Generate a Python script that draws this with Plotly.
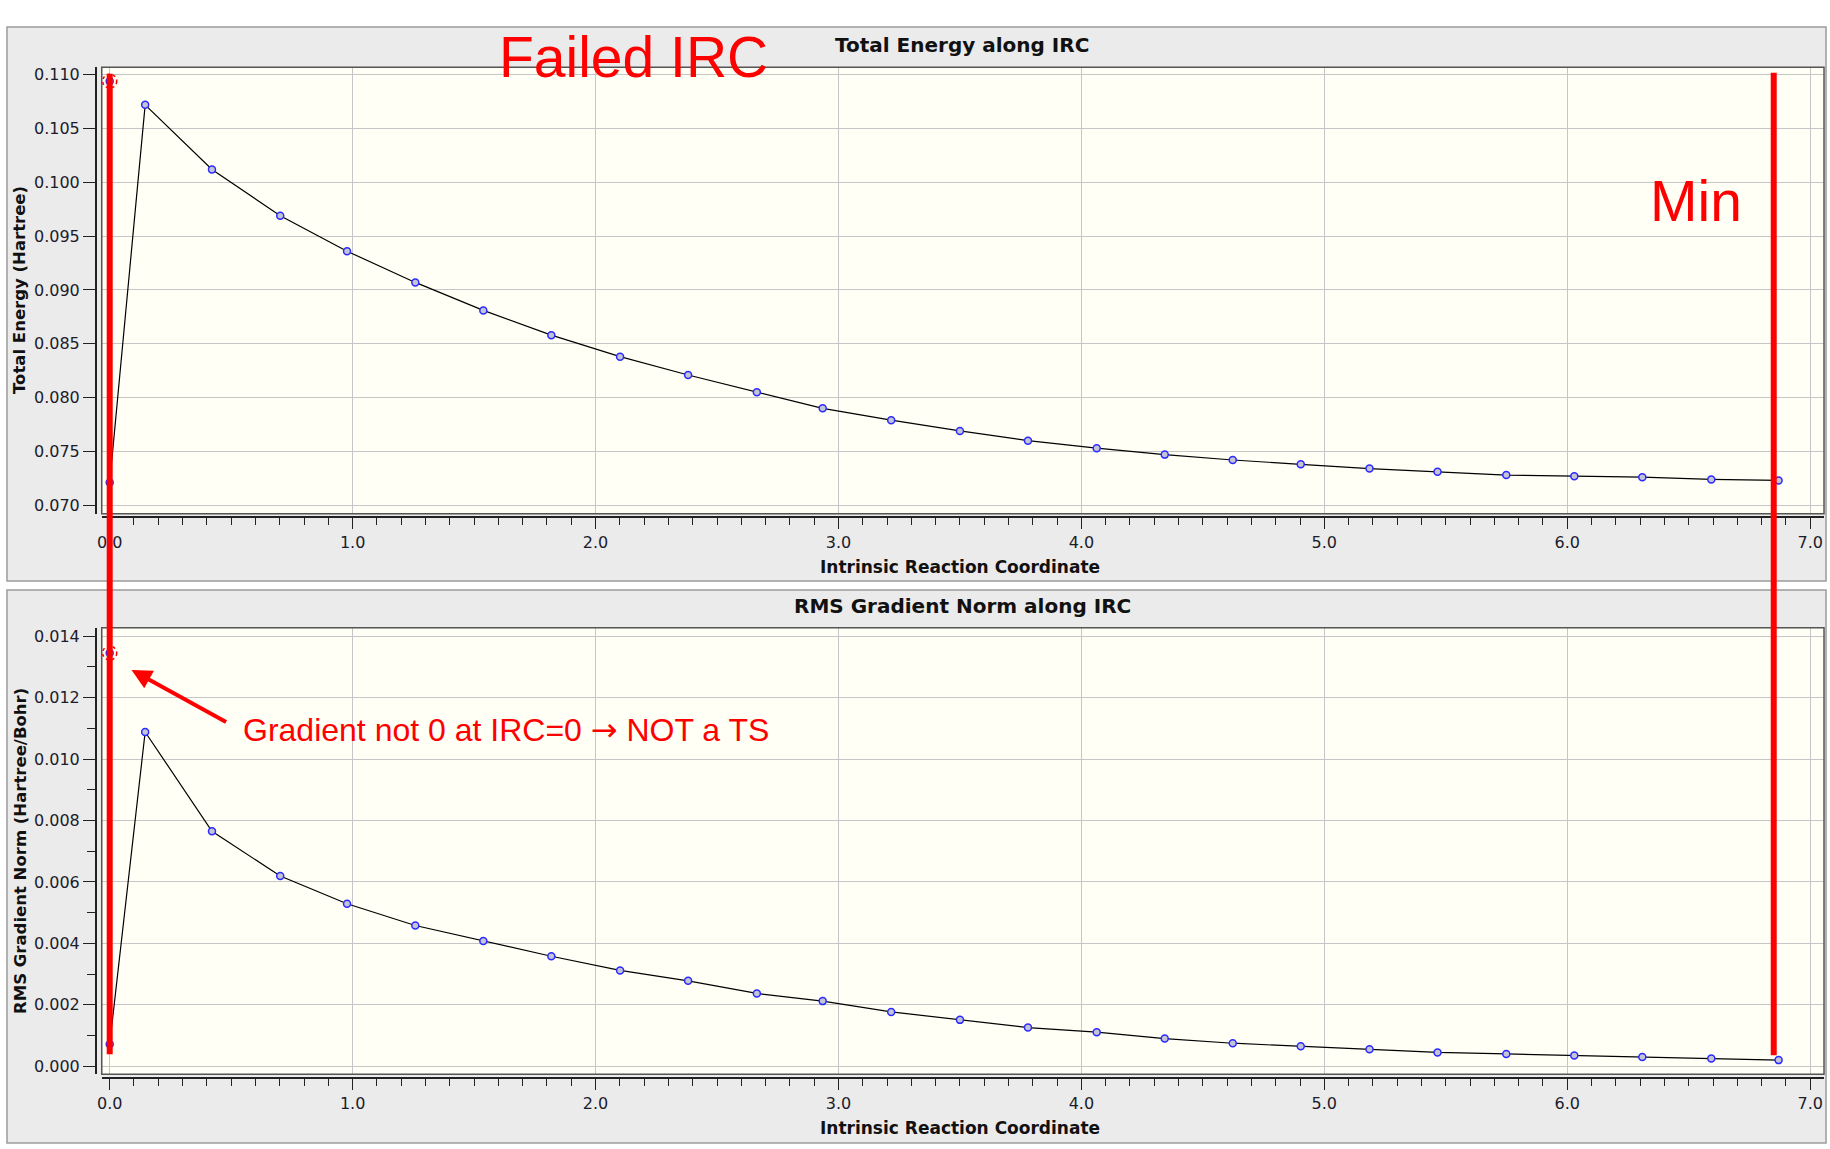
import plotly.graph_objects as go

# IRC data
irc = [0.0, 0.0, 0.146, 0.421, 0.702, 0.977, 1.258, 1.538, 1.818, 2.101, 2.381, 2.664, 2.935,
       3.217, 3.500, 3.780, 4.063, 4.343, 4.623, 4.903, 5.186, 5.466, 5.749, 6.029, 6.309,
       6.593, 6.870]
energy = [0.1094, 0.0721, 0.1072, 0.1012, 0.0969, 0.0936, 0.0907, 0.0881, 0.0858, 0.0838,
          0.0821, 0.0805, 0.0790, 0.0779, 0.0769, 0.0760, 0.0753, 0.0747, 0.0742, 0.0738,
          0.0734, 0.0731, 0.0728, 0.0727, 0.0726, 0.0724, 0.0723]
grad_norm = [0.01345, 0.00072, 0.01088, 0.00765, 0.00619, 0.00529, 0.00458, 0.00408, 0.00358,
             0.00312, 0.00278, 0.00237, 0.00212, 0.00177, 0.00151, 0.00126, 0.00111, 0.00090,
             0.00075, 0.00065, 0.00055, 0.00045, 0.00040, 0.00035, 0.00030, 0.00025, 0.00020]
min_irc = 6.85

W, H = 1830, 1149


def px(x):
    return x / W


def py(y):
    return 1 - y / H


TICK_FONT = dict(family='DejaVu Sans', size=16, color='#1c1c2c')
RED = '#ff0000'

xdom = [px(97), px(1824)]
top_dom = [py(513.5), py(65.5)]
bot_dom = [py(1076), py(628)]


def line_trace(y, xa, ya):
    return go.Scatter(
        x=irc, y=y, xaxis=xa, yaxis=ya, mode='lines+markers',
        line=dict(color='black', width=1.2),
        marker=dict(symbol='circle', size=7, color='#c4c4d4',
                    line=dict(color='#2a2aff', width=1.5)),
        showlegend=False, hoverinfo='x+y',
    )


def xaxis(pos):
    return dict(
        domain=xdom, range=[-0.0328, 7.057], anchor='free', position=pos,
        dtick=1, tick0=0, tickformat='.1f', ticks='outside', ticklen=11,
        tickcolor='#222', tickfont=TICK_FONT, showline=True, linecolor='#222',
        linewidth=1.5, showgrid=True, gridcolor='#c6c6c6', zeroline=False,
        minor=dict(dtick=0.1, ticks='outside', ticklen=7, tickcolor='#222', showgrid=False),
    )


def yaxis(dom, rng, dtick, minor):
    ax = dict(
        domain=dom, range=rng, anchor='free', position=px(91), dtick=dtick, tick0=0,
        tickformat='.3f', ticks='outside', ticklen=12, tickcolor='#222',
        tickfont=TICK_FONT, showline=True, linecolor='#222', linewidth=1.5,
        showgrid=True, gridcolor='#c6c6c6', zeroline=False,
    )
    if minor:
        ax['minor'] = dict(dtick=minor, ticks='outside', ticklen=8, tickcolor='#222',
                           showgrid=False)
    return ax


shapes = []
# gray panels
for y0, y1 in ((25, 581), (590, 1145)):
    shapes.append(dict(type='rect', xref='paper', yref='paper', layer='below',
                       x0=px(2), x1=px(1826), y0=py(y1), y1=py(y0),
                       fillcolor='#ebebeb', line=dict(color='#9c9c9c', width=1.5)))
# cream plot areas
for dom in (top_dom, bot_dom):
    shapes.append(dict(type='rect', xref='paper', yref='paper', layer='below',
                       x0=xdom[0], x1=xdom[1], y0=dom[0], y1=dom[1],
                       fillcolor='#fffff5', line=dict(width=0)))
    shapes.append(dict(type='rect', xref='paper', yref='paper', layer='above',
                       x0=xdom[0], x1=xdom[1], y0=dom[0], y1=dom[1],
                       line=dict(color='#555555', width=1.5)))
# red vertical markers
shapes.append(dict(type='line', xref='x', yref='paper', x0=irc[0], x1=irc[0],
                   y0=py(1056), y1=py(72), line=dict(color=RED, width=6)))
shapes.append(dict(type='line', xref='x', yref='paper', x0=min_irc, x1=min_irc,
                   y0=py(1057), y1=py(71), line=dict(color=RED, width=6)))
# dashed circles around IRC=0 points
for xr, yr, val in (('x', 'y', energy[0]), ('x2', 'y2', grad_norm[0])):
    shapes.append(dict(type='circle', xref=xr, yref=yr, xsizemode='pixel',
                       ysizemode='pixel', xanchor=irc[0], yanchor=val,
                       x0=-7, x1=7, y0=-7, y1=7,
                       line=dict(color=RED, width=1.5, dash='dot')))

TITLE_FONT = dict(family='DejaVu Sans', size=20, color='#111', weight='bold')
AXIS_FONT = dict(family='DejaVu Sans', size=17, color='#111', weight='bold')
YAXIS_FONT = dict(family='DejaVu Sans', size=16.5, color='#111', weight='bold')
RED_FONT = 'Liberation Sans, Arial'


def label(text, x, y, font, **kw):
    d = dict(text=text, x=px(x), y=py(y), xref='paper', yref='paper', showarrow=False,
             xanchor='center', yanchor='middle', font=font)
    d.update(kw)
    return d


annotations = [
    label('Total Energy along IRC', 960, 43, TITLE_FONT),
    label('RMS Gradient Norm along IRC', 960, 606, TITLE_FONT),
    label('Intrinsic Reaction Coordinate', 958, 567, AXIS_FONT),
    label('Intrinsic Reaction Coordinate', 958, 1130, AXIS_FONT),
    label('Total Energy (Hartree)', 15, 289, YAXIS_FONT, textangle=-90),
    label('RMS Gradient Norm (Hartree/Bohr)', 15, 852, YAXIS_FONT, textangle=-90),
    label('Failed IRC', 630, 55, dict(family=RED_FONT, size=57, color=RED)),
    label('Min', 1696, 200, dict(family=RED_FONT, size=57, color=RED)),
    label('Gradient not 0 at IRC=0 '
          '<span style="font-family:\'DejaVu Sans\'">\u2192</span> NOT a TS',
          237, 731, dict(family=RED_FONT, size=32, color=RED), xanchor='left'),
    dict(text='', x=0.09, y=0.0129, xref='x2', yref='y2', ax=96, ay=53,
         showarrow=True, arrowhead=2, arrowsize=1, arrowwidth=4, arrowcolor=RED),
]

fig = go.Figure(
    data=[line_trace(energy, 'x', 'y'), line_trace(grad_norm, 'x2', 'y2')],
    layout=go.Layout(
        width=W, height=H, autosize=False,
        margin=dict(l=0, r=0, t=0, b=0),
        paper_bgcolor='white', plot_bgcolor='rgba(0,0,0,0)',
        xaxis=xaxis(py(517)),
        yaxis=yaxis(top_dom, [0.06921, 0.11069], 0.005, None),
        xaxis2=xaxis(py(1080)),
        yaxis2=yaxis(bot_dom, [-0.00026, 0.01427], 0.002, 0.001),
        shapes=shapes,
        annotations=annotations,
        showlegend=False,
    ),
)

# drop the default page margin so the figure sits at the window's top-left corner
fig.write_html('out.html', config={'displayModeBar': False},
               post_script="document.body.style.margin='0';document.body.style.overflow='hidden';")
